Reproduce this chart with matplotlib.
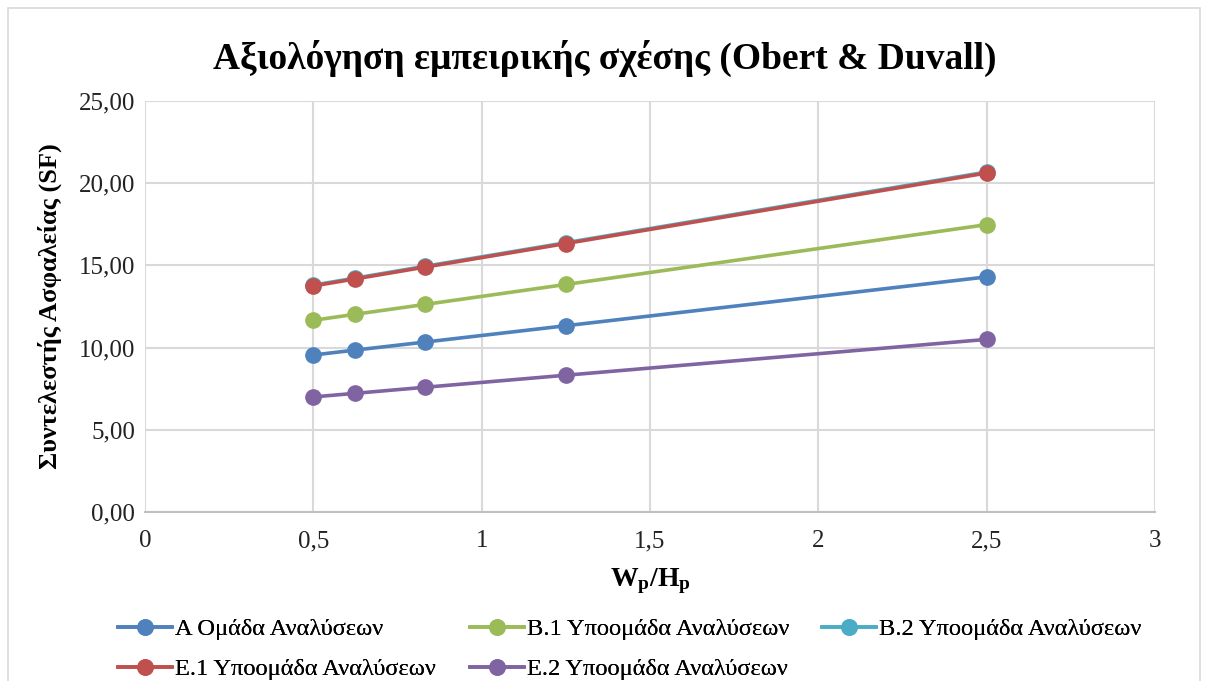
import matplotlib
matplotlib.use("Agg")
import matplotlib.pyplot as plt
from matplotlib.ticker import FuncFormatter, MultipleLocator
from matplotlib.patches import Rectangle

x_vals = [0.5, 0.625, 0.833, 1.25, 2.5]
series_names = ["Α Ομάδα Αναλύσεων", "Β.1 Υποομάδα Αναλύσεων", "Β.2 Υποομάδα Αναλύσεων",
                "Ε.1 Υποομάδα Αναλύσεων", "Ε.2 Υποομάδα Αναλύσεων"]
a_vals = [9.55, 9.85, 10.34, 11.33, 14.30]
b1_vals = [11.66, 12.03, 12.63, 13.84, 17.48]
b2_vals = [13.80, 14.23, 14.95, 16.38, 20.68]
e1_vals = [13.75, 14.18, 14.90, 16.33, 20.62]
e2_vals = [7.00, 7.22, 7.59, 8.32, 10.50]
colors = ["#4F81BD", "#9BBB59", "#4BACC6", "#C0504D", "#8064A2"]

plt.rcParams['font.family'] = ['Liberation Serif', 'DejaVu Serif']
plt.rcParams['mathtext.fontset'] = 'custom'
plt.rcParams['mathtext.bf'] = 'Liberation Serif:bold'
plt.rcParams['mathtext.rm'] = 'Liberation Serif'
plt.rcParams['mathtext.it'] = 'Liberation Serif:italic'

fig = plt.figure(figsize=(12.09, 6.81), dpi=100)
ax = fig.add_axes([145/1209, 1-512/681, (1155-145)/1209, (512-101)/681])

handles = []
for vals, name, c in zip([a_vals, b1_vals, b2_vals, e1_vals, e2_vals], series_names, colors):
    h, = ax.plot(x_vals, vals, color=c, lw=2.6, marker='o', markersize=11, label=name)
    handles.append(h)

ax.set_xlim(0, 3)
ax.set_ylim(0, 25)
ax.xaxis.set_major_locator(MultipleLocator(0.5))
ax.yaxis.set_major_locator(MultipleLocator(5))
ax.xaxis.set_major_formatter(FuncFormatter(lambda v, p: ("%g" % v).replace('.', ',')))
ax.yaxis.set_major_formatter(FuncFormatter(lambda v, p: ("%.2f" % v).replace('.', ',')))
ax.grid(True, color='#D9D9D9', lw=1.5)
ax.set_axisbelow(True)
for s in ['top', 'right', 'left']:
    ax.spines[s].set_visible(False)
ax.spines['bottom'].set_color('#BFBFBF')
ax.spines['bottom'].set_linewidth(1.5)
ax.tick_params(length=0, labelsize=18, colors='#222222')
ax.tick_params(axis='y', pad=7)
ax.tick_params(axis='x', pad=13)

ax.set_xlabel(r"$\mathbf{W_p/H_p}$", fontsize=20, labelpad=10)
ax.set_ylabel("Συντελεστής Ασφαλείας (SF)", fontsize=19, fontweight='bold', labelpad=12)

fig.text(0.5, 1-58/681, "Αξιολόγηση εμπειρικής σχέσης (Obert & Duvall)", ha='center', va='center',
         fontsize=27, fontweight='bold')

leg_pos = [(118, 629), (470, 629), (822, 629), (118, 669), (470, 669)]
for h, name, (px, py) in zip(handles, series_names, leg_pos):
    lg = fig.legend([h], [name], loc='center left', bbox_to_anchor=(px/1209, 1-py/681),
                    frameon=False, fontsize=17.6, handlelength=2.2, handletextpad=0.15,
                    borderpad=0, borderaxespad=0)
    fig.add_artist(lg)

fig.add_artist(Rectangle((8/1209, -0.01), 1192/1209, 1-8/681+0.01, transform=fig.transFigure,
                         fill=False, edgecolor='#D9D9D9', lw=1.2))

fig.savefig("out.png", dpi=100)
